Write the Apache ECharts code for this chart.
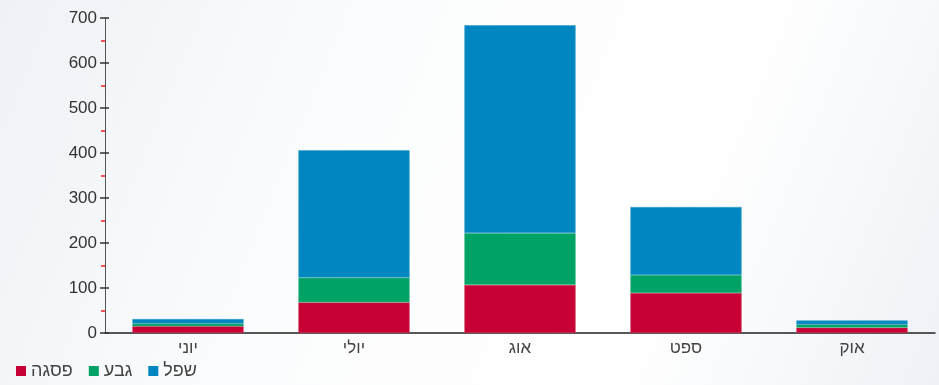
<!DOCTYPE html>
<html>
<head>
<meta charset="utf-8">
<script src="https://cdn.jsdelivr.net/npm/echarts@6/dist/echarts.min.js"></script>
<style>
  html, body { margin: 0; padding: 0; }
  #chart { width: 939px; height: 385px; }
</style>
</head>
<body>
<div id="chart"></div>
<script>
const months = ['יוני', 'יולי', 'אוג', 'ספט', 'אוק'];
const peak = [15, 68, 107, 89, 12];   // פסגה
const hill = [6, 55, 115, 40, 7];     // גבע
const low = [10, 283, 462, 151, 9];   // שפל
const yTicks = [0, 100, 200, 300, 400, 500, 600, 700];

const myChart = echarts.init(document.getElementById('chart'));

const option = {
  backgroundColor: new echarts.graphic.LinearGradient(0, 0, 1, 1, [
    { offset: 0, color: '#eef2f6' },
    { offset: 0.35, color: '#fbfcfd' },
    { offset: 0.7, color: '#ffffff' },
    { offset: 1, color: '#eef2f6' }
  ]),
  animation: false,
  textStyle: { fontFamily: 'Liberation Sans, Arial, sans-serif' },
  grid: { left: 105, right: 4, top: 18, bottom: 52 },
  legend: {
    left: 11,
    bottom: 0,
    itemWidth: 10,
    itemHeight: 10,
    itemGap: 16,
    icon: 'rect',
    itemStyle: { borderWidth: 0 },
    textStyle: { fontSize: 18, color: '#444' },
    data: ['פסגה', 'גבע', 'שפל']
  },
  xAxis: {
    type: 'category',
    data: months,
    axisLine: { lineStyle: { color: '#222', width: 1.5 } },
    axisTick: { alignWithLabel: true, length: 5, lineStyle: { color: '#444' } },
    axisLabel: { fontSize: 17, color: '#444', margin: 7 }
  },
  yAxis: [
    {
      type: 'value',
      min: yTicks[0],
      max: yTicks[yTicks.length - 1],
      interval: 100,
      splitLine: { show: false },
      axisLine: { show: true, lineStyle: { color: '#555' } },
      axisTick: { show: true, length: 5, lineStyle: { color: '#333', width: 1.5 } },
      minorTick: { show: true, splitNumber: 2, length: 4, lineStyle: { color: '#ff1a1a', width: 1.5 } },
      axisLabel: { fontSize: 17, color: '#333', margin: 8 }
    },
    {
      type: 'value',
      position: 'left',
      min: yTicks[0],
      max: yTicks[yTicks.length - 1],
      interval: 100,
      splitLine: { show: false },
      axisLine: { show: false },
      axisTick: { show: true, inside: true, length: 4, lineStyle: { color: '#333', width: 1.5 } },
      axisLabel: { show: false }
    }
  ],
  series: [
    {
      name: 'פסגה', type: 'bar', stack: 'total', data: peak, barWidth: '67%',
      itemStyle: { color: '#c70035', borderColor: '#d23a5e', borderWidth: 0.6 }
    },
    {
      name: 'גבע', type: 'bar', stack: 'total', data: hill,
      itemStyle: { color: '#00a266', borderColor: '#3ab685', borderWidth: 0.6 }
    },
    {
      name: 'שפל', type: 'bar', stack: 'total', data: low,
      itemStyle: { color: '#0086c0', borderColor: '#3a9fcc', borderWidth: 0.6 }
    }
  ]
};

myChart.setOption(option);
</script>
</body>
</html>
